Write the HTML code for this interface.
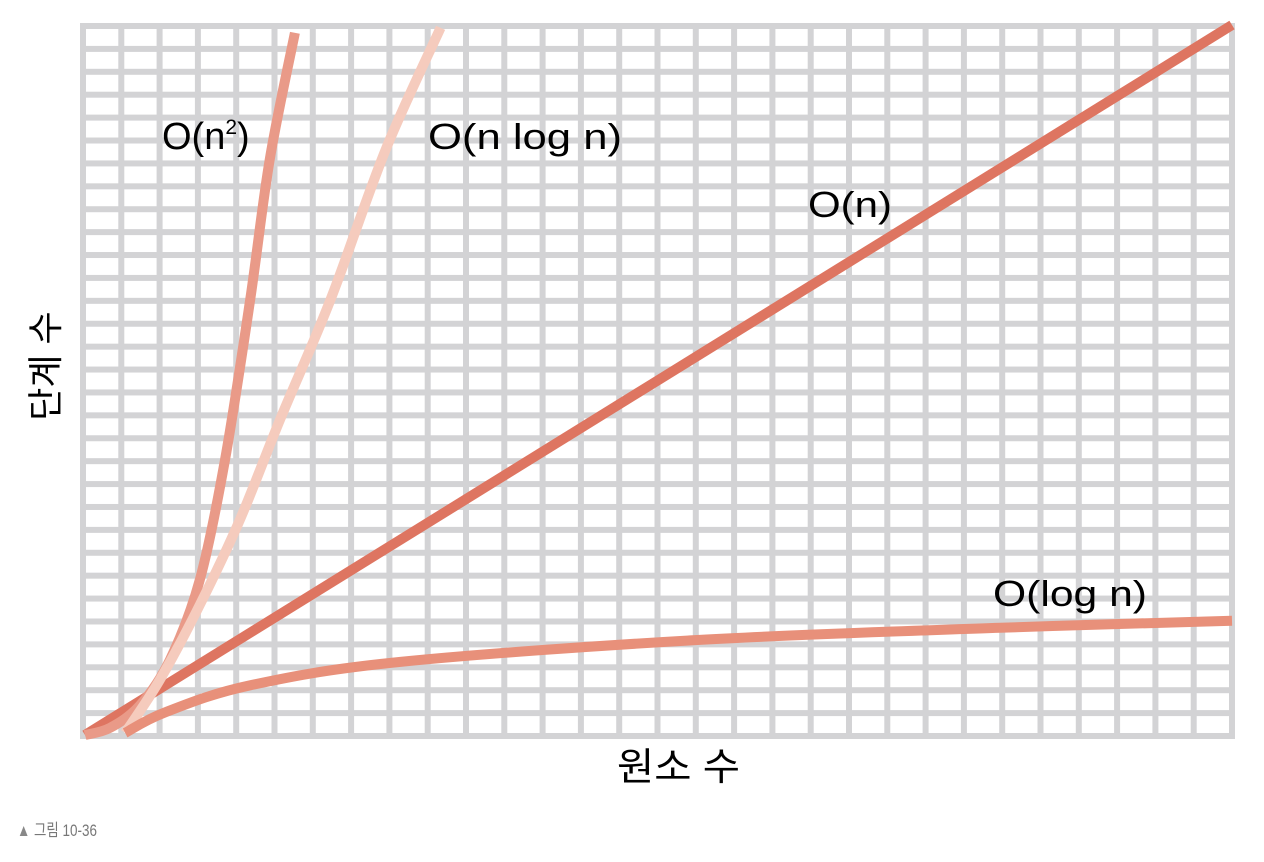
<!DOCTYPE html>
<html><head><meta charset="utf-8">
<style>
html,body{margin:0;padding:0;background:#fff;}
svg{display:block;}
text{font-family:"Liberation Sans","Noto Sans CJK KR",sans-serif;}
</style></head>
<body>
<svg id="chart" width="1264" height="862" viewBox="0 0 1264 862">
  <g id="grid"></g>
  <g id="series"></g>
  <text x="162" y="149" font-size="38">O(n<tspan font-size="21" dy="-15">2</tspan><tspan dy="15">)</tspan></text>
  <text x="428" y="149" font-size="36" textLength="194" lengthAdjust="spacingAndGlyphs">O(n log n)</text>
  <text x="808" y="217" font-size="36" textLength="84" lengthAdjust="spacingAndGlyphs">O(n)</text>
  <text x="993" y="606" font-size="36" textLength="154" lengthAdjust="spacingAndGlyphs">O(log n)</text>
  <text x="617" y="780" font-size="38" textLength="123" lengthAdjust="spacingAndGlyphs">원소 수</text>
  <text transform="translate(58,366) rotate(-90)" font-size="36" text-anchor="middle">단계 수</text>
  <text x="17" y="836" font-size="17" fill="#777" textLength="80" lengthAdjust="spacingAndGlyphs"><tspan fill="#888">▲</tspan> 그림 10-36</text>
</svg>
<script>
// data (x: 0..100 elements, y: 0..100 steps)
const nX = [0, 100];
const nY = [0, 100];
const n2X = [0, 2.18, 4.8, 7.41, 10.0, 12.2, 14.4, 16.1, 18.3];
const n2Y = [0, 1.0, 4.2, 10.6, 21.8, 38.7, 61.3, 81.0, 98.9];
const nlognX = [3.5, 6.5, 10, 13.5, 17, 21.4, 26.2, 31];
const nlognY = [0.3, 7.7, 18.3, 30.3, 44.4, 61.3, 82.4, 99.6];
const lognX = [3.5, 7, 14.4, 27.5, 53.6, 79.8, 100];
const lognY = [0.3, 3.2, 7, 10.3, 13.4, 15.1, 16.1];

const NS = 'http://www.w3.org/2000/svg';
function sx(v){ return 85 + v * 11.47; }
function sy(v){ return 735 - v * 7.1; }

// grid
const grid = document.getElementById('grid');
const gx0 = 80, gx1 = 1235, gy0 = 23, gy1 = 739, cols = 30, rows = 31, lw = 6;
const bg = document.createElementNS(NS, 'rect');
bg.setAttribute('x', gx0); bg.setAttribute('y', gy0);
bg.setAttribute('width', gx1 - gx0); bg.setAttribute('height', gy1 - gy0);
bg.setAttribute('fill', '#d3d3d5');


grid.appendChild(bg);
const pw = (gx1 - gx0 - lw) / cols, ph = (gy1 - gy0 - lw) / rows;
for (let c = 0; c < cols; c++) {
  for (let r = 0; r < rows; r++) {
    const cell = document.createElementNS(NS, 'rect');
    cell.setAttribute('x', gx0 + lw + c * pw);
    cell.setAttribute('y', gy0 + lw + r * ph);
    cell.setAttribute('width', pw - lw);
    cell.setAttribute('height', ph - lw);
    cell.setAttribute('fill', '#fff');
    
    
    grid.appendChild(cell);
  }
}

function pathFor(xs, ys){
  const p = xs.map((x,i)=>[sx(x), sy(ys[i])]);
  if (p.length === 2) return `M${p[0][0]},${p[0][1]}L${p[1][0]},${p[1][1]}`;
  let d = `M${p[0][0]},${p[0][1]}`;
  for (let i = 0; i < p.length - 1; i++) {
    const p0 = p[i-1] || p[i], p1 = p[i], p2 = p[i+1], p3 = p[i+2] || p2;
    const c1 = [p1[0] + (p2[0]-p0[0])/6, p1[1] + (p2[1]-p0[1])/6];
    const c2 = [p2[0] - (p3[0]-p1[0])/6, p2[1] - (p3[1]-p1[1])/6];
    d += `C${c1[0]},${c1[1]} ${c2[0]},${c2[1]} ${p2[0]},${p2[1]}`;
  }
  return d;
}
const series = document.getElementById('series');
function addLine(xs, ys, color, name){
  const path = document.createElementNS(NS, 'path');
  path.setAttribute('d', pathFor(xs, ys));
  path.setAttribute('fill', 'none');
  path.setAttribute('stroke', color);
  path.setAttribute('stroke-width', '10');
  
  
  series.appendChild(path);
}
addLine(nX, nY, '#de7561', 'line-o-n');
addLine(n2X, n2Y, '#e99a88', 'line-o-n-squared');
addLine(nlognX, nlognY, '#f5cbbd', 'line-o-n-log-n');
addLine(lognX, lognY, '#e8907a', 'line-o-log-n');
</script>
</body></html>
